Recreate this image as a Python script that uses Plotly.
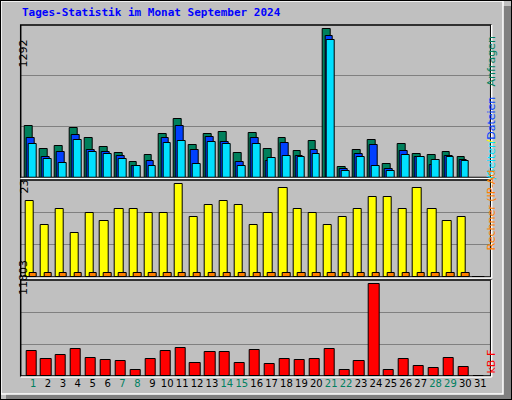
import plotly.graph_objects as go
from plotly.subplots import make_subplots

days = list(range(1, 32))
weekend = [1, 7, 8, 14, 15, 21, 22, 28, 29]

hits = [450, 248, 275, 433, 345, 266, 213, 134, 196, 380, 512, 284, 380, 398, 213,
        389, 248, 345, 231, 319, 1292, 91, 240, 327, 117, 292, 205, 196, 222, 178, 0]
files = [345, 178, 222, 371, 240, 222, 187, 99, 143, 345, 450, 240, 354, 310, 134,
         345, 143, 301, 187, 240, 1239, 73, 205, 284, 73, 231, 178, 108, 187, 152, 0]
pages = [292, 161, 126, 327, 222, 205, 161, 99, 99, 301, 319, 117, 310, 292, 99,
         292, 170, 187, 178, 205, 1204, 56, 178, 99, 56, 196, 178, 152, 178, 143, 0]
visits = [19, 13, 17, 11, 16, 14, 17, 17, 16, 16, 23, 15, 18, 19, 18,
          13, 16, 22, 17, 16, 13, 15, 17, 20, 20, 17, 22, 17, 14, 15, 0]
sites = [1] * 30 + [0]
kbytes = [3274, 2240, 2757, 3532, 2369, 2111, 1981, 818, 2240, 3274, 3661, 1723, 3145, 3145, 1723,
          3403, 1594, 2240, 2111, 2240, 3532, 818, 1981, 11803, 818, 2240, 1335, 1077, 2369, 1206, 0]

fig = make_subplots(rows=3, cols=1, shared_xaxes=True)

line = dict(color="black", width=1)
fig.add_trace(go.Bar(x=days, y=hits, width=0.52, offset=-0.54, marker=dict(color="#00805C", line=line)), row=1, col=1)
fig.add_trace(go.Bar(x=days, y=files, width=0.52, offset=-0.40, marker=dict(color="#0040FF", line=line)), row=1, col=1)
fig.add_trace(go.Bar(x=days, y=pages, width=0.52, offset=-0.27, marker=dict(color="#00E0FF", line=line)), row=1, col=1)
fig.add_trace(go.Bar(x=days, y=visits, width=0.55, offset=-0.50, marker=dict(color="#FFFF00", line=line)), row=2, col=1)
fig.add_trace(go.Bar(x=days, y=sites, width=0.5, offset=-0.23, marker=dict(color="#FF8000", line=line)), row=2, col=1)
fig.add_trace(go.Bar(x=days, y=kbytes, width=0.68, offset=-0.46, marker=dict(color="#FF0000", line=line)), row=3, col=1)

W, H = 512, 400
def py(p):
    return 1 - p / H
def px(p):
    return p / W

x0, x1 = 20.7, 490.7
panels = [(25, 177.5, 1331), (180, 277, 24.1), (280, 376, 12370)]
for i, (t, b, top) in enumerate(panels, start=1):
    fig.update_yaxes(row=i, col=1, domain=[py(b), py(t)], range=[0, top],
                     tickvals=[top / 3, top * 2 / 3], showticklabels=False,
                     gridcolor="#808080", gridwidth=1, zeroline=False, fixedrange=True)
    fig.add_shape(type="rect", xref="paper", yref="paper", x0=px(x0), x1=px(x1),
                  y0=py(b), y1=py(t), line=dict(color="black", width=1.5))
    fig.add_shape(type="line", xref="paper", yref="paper", x0=px(x1 + 1), x1=px(x1 + 1),
                  y0=py(b + 1), y1=py(t), line=dict(color="white", width=1.5))
    fig.add_shape(type="line", xref="paper", yref="paper", x0=px(x0), x1=px(x1 + 1),
                  y0=py(b + 1), y1=py(b + 1), line=dict(color="white", width=1.5))

ticktext = [f"<span style='color:#008060'>{d}</span>" if d in weekend else str(d) for d in days]
fig.update_xaxes(range=[0.17, 31.7], showgrid=False, zeroline=False, domain=[px(x0), px(x1)],
                 showticklabels=False, ticks="")
fig.update_xaxes(row=3, col=1, showticklabels=True, tickvals=days, ticktext=ticktext, tickangle=0,
                 tickfont=dict(family="DejaVu Sans", size=10, color="black"))

# outer frame
fig.add_shape(type="rect", xref="paper", yref="paper", x0=px(503), x1=1, y0=0, y1=py(6),
              fillcolor="#808080", line_width=0, layer="below")
fig.add_shape(type="rect", xref="paper", yref="paper", x0=px(6), x1=1, y0=0, y1=py(394),
              fillcolor="#808080", line_width=0, layer="below")
fig.add_shape(type="rect", xref="paper", yref="paper", x0=px(1), x1=px(503), y0=py(394), y1=py(1),
              line=dict(color="white", width=1.5), fillcolor="#C0C0C0", layer="below")
fig.add_shape(type="rect", xref="paper", yref="paper", x0=0, x1=1, y0=0, y1=1,
              line=dict(color="black", width=2))

ann = dict(xref="paper", yref="paper", showarrow=False, textangle=-90,
           font=dict(family="DejaVu Sans", size=11, color="black"))
fig.add_annotation(x=px(15), y=py(38), text="1292", **ann)
fig.add_annotation(x=px(15), y=py(187), text="23", **ann)
fig.add_annotation(x=px(15), y=py(297), text="11803", **ann)

fig.add_annotation(x=px(499), y=py(62), text="<span style='color:#00805C'>Anfragen</span>",
                   yanchor="middle", **ann)
fig.add_annotation(x=px(499), y=py(120), text="<span style='color:#FFFF00'>/</span><span style='color:#0040FF'>Dateien</span>",
                   yanchor="middle", **ann)
fig.add_annotation(x=px(499), y=py(160), text="<span style='color:#00E0FF'>/Seiten</span>",
                   yanchor="middle", **ann)
fig.add_annotation(x=px(499), y=py(210), text="<span style='color:#FF8000'>Rechner (IP-Ad</span>",
                   yanchor="middle", **ann)
fig.add_annotation(x=px(499), y=py(362), text="<span style='color:#FF0000'>kB F</span>",
                   yanchor="middle", **ann)

fig.add_annotation(x=px(20), y=py(12), xanchor="left", yanchor="middle", showarrow=False,
                   xref="paper", yref="paper", text="<b>Tages-Statistik im Monat September 2024</b>",
                   font=dict(family="DejaVu Sans Mono", size=11, color="#0000FF"))

fig.update_layout(width=W, height=H, margin=dict(l=0, r=0, t=0, b=0), showlegend=False,
                  barmode="overlay", bargap=0, paper_bgcolor="#C0C0C0", plot_bgcolor="#C0C0C0")
fig.write_html("out.html", config={"displayModeBar": False},
               post_script="document.body.style.margin='0';document.body.style.overflow='hidden';")
